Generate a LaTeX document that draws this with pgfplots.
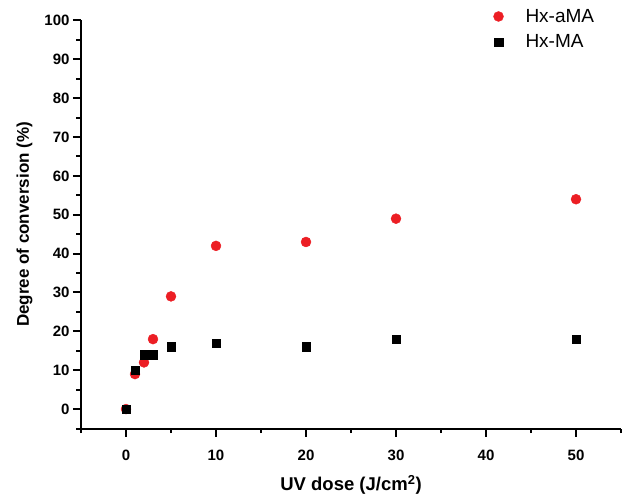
\documentclass[border=0pt]{standalone}
\usepackage{fontspec}
\setmainfont{Liberation Sans}
\usepackage{pgfplots}
\pgfplotsset{compat=1.18}
\definecolor{ptred}{RGB}{236,30,36}

\begin{document}
\begin{tikzpicture}
\begin{axis}[
  scale only axis, width=540pt, height=408pt,
  xmin=-5, xmax=55, ymin=-5, ymax=100,
  axis lines=left,
  axis line style={-, line width=2pt},
  xtick={0,10,...,50}, ytick={0,10,...,100},
  minor xtick={-5,5,...,55}, minor ytick={-5,5,...,95},
  tick align=outside, major tick length=8pt, minor tick length=4.5pt,
  tick style={black, line width=2pt},
  /pgf/number format/assume math mode=true,
  tick label style={font=\bfseries\fontsize{15}{17}\selectfont},
  xticklabel style={yshift=-10pt},
  xlabel={UV dose (J/cm\textsuperscript{2})},
  ylabel={Degree of conversion (\%)},
  xlabel style={font=\bfseries\fontsize{18.5}{21}\selectfont, yshift=-8pt},
  ylabel style={font=\bfseries\fontsize{17}{20}\selectfont},
  ylabel shift=5pt,
  legend style={draw=none, fill=none, at={(0.758,1.038)}, anchor=north west,
    font=\fontsize{19}{22}\selectfont, row sep=7pt, column sep=20pt},
  legend cell align=left,
  clip=false]
\addplot[only marks, mark=*, mark size=5pt, color=ptred] coordinates {
  (0,0) (1,9) (2,12) (3,18) (5,29) (10,42) (20,43) (30,49) (50,54)};
\addplot[only marks, mark=square*, mark size=4.3pt, color=black] coordinates {
  (0,0) (1,10) (2,14) (3,14) (5,16) (10,17) (20,16) (30,18) (50,18)};
\legend{Hx-aMA, Hx-MA}
\end{axis}
\pgfresetboundingbox
\path ([xshift=-81pt,yshift=-68.5pt]current axis.south west) rectangle ([xshift=6pt,yshift=20.5pt]current axis.north east);
\end{tikzpicture}
\end{document}
